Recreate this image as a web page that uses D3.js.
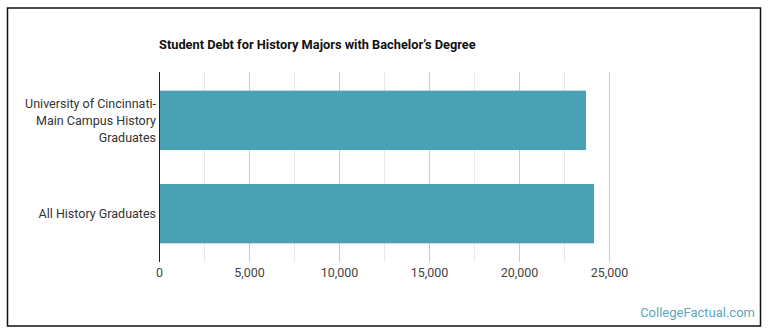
<!DOCTYPE html>
<html>
<head>
<meta charset="utf-8">
<script src="https://cdn.jsdelivr.net/npm/d3@7"></script>
<style>
  body { margin: 0; background: #fff; }
  svg { display: block; font-family: Roboto, "Noto Sans", sans-serif; }
</style>
</head>
<body>
<svg id="chart" width="770" height="335"></svg>
<script>
// data
const categories = [
  ["University of Cincinnati-", "Main Campus History", "Graduates"],
  ["All History Graduates"]
];
const debt = [23722, 24167];
const ticks = [0, 5000, 10000, 15000, 20000, 25000];
const minorTicks = [2500, 7500, 12500, 17500, 22500];

const width = 770, height = 335;
const margin = {top: 72, right: 161, bottom: 73, left: 159};

const svg = d3.select("#chart");

// frame
svg.append("rect")
    .attr("x", 7.5).attr("y", 8)
    .attr("width", 753).attr("height", 318)
    .attr("fill", "#fff")
    .attr("stroke", "#111")
    .attr("stroke-width", 1.5);

const x = d3.scaleLinear()
    .domain([0, 25000])
    .range([margin.left, width - margin.right]);

const y = d3.scaleBand()
    .domain(d3.range(categories.length))
    .range([margin.top, height - margin.bottom])
    .paddingInner(0.364)
    .paddingOuter(0.2);

// minor grid
svg.append("g")
  .selectAll("line")
  .data(minorTicks)
  .join("line")
    .attr("x1", d => x(d) + 0.5).attr("x2", d => x(d) + 0.5)
    .attr("y1", margin.top).attr("y2", height - margin.bottom)
    .attr("stroke", "#e8e8e8");

// x axis with major gridlines
const xAxis = svg.append("g")
    .attr("transform", `translate(0,${margin.top})`)
    .call(d3.axisBottom(x)
      .tickValues(ticks)
      .tickSize(height - margin.bottom - margin.top)
      .tickPadding(6)
      .tickFormat(d3.format(",")));
xAxis.select(".domain").remove();
xAxis.selectAll(".tick line").attr("stroke", "#cccccc");
xAxis.selectAll(".tick text")
    .attr("fill", "#444")
    .attr("font-size", 12.5)
    .attr("font-family", "Roboto, sans-serif");

// bars
svg.append("g")
  .selectAll("rect")
  .data(debt)
  .join("rect")
    .attr("x", x(0))
    .attr("y", (d, i) => y(i))
    .attr("width", d => x(d) - x(0))
    .attr("height", y.bandwidth())
    .attr("fill", "#4aa1b4");

// left axis line
svg.append("line")
    .attr("x1", x(0) + 0.5).attr("x2", x(0) + 0.5)
    .attr("y1", margin.top).attr("y2", height - margin.bottom)
    .attr("stroke", "#222");

// category labels
const lineH = 16.8;
svg.append("g")
  .selectAll("text")
  .data(categories)
  .join("text")
    .attr("text-anchor", "end")
    .attr("font-size", 12.5)
    .attr("fill", "#333")
    .each(function(lines, i) {
      const cy = y(i) + y.bandwidth() / 2;
      const y0 = cy - (lines.length - 1) * lineH / 2;
      d3.select(this).selectAll("tspan")
        .data(lines)
        .join("tspan")
          .attr("x", x(0) - 3)
          .attr("y", (d, j) => y0 + j * lineH)
          .attr("dy", "0.35em")
          .text(d => d);
    });

// title
svg.append("text")
    .attr("x", 159)
    .attr("y", 49)
    .attr("font-size", 12.8)
    .attr("font-weight", "bold")
    .attr("fill", "#111")
    .text("Student Debt for History Majors with Bachelor\u2019s Degree");

// branding
svg.append("text")
    .attr("x", 755)
    .attr("y", 317)
    .attr("text-anchor", "end")
    .attr("font-size", 13)
    .attr("fill", "#5aa8bd")
    .text("CollegeFactual.com");
</script>
</body>
</html>
